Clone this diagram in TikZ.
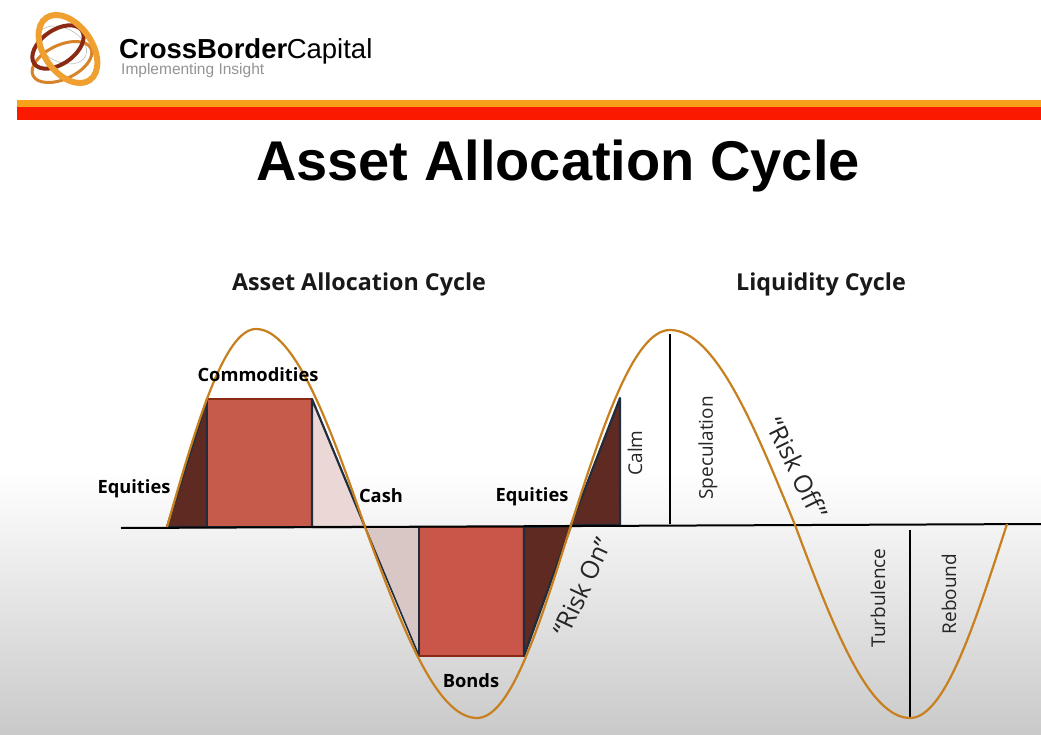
\documentclass[tikz,border=0pt]{standalone}
\usepackage{fontspec}
\setmainfont{Open Sans}
\newfontfamily\headfont{Liberation Sans}
\definecolor{wavec}{HTML}{C8801E}
\definecolor{navyc}{HTML}{1F2D3F}
\definecolor{darkc}{HTML}{5E2A22}
\definecolor{brickc}{HTML}{C65B4C}
\definecolor{palec}{HTML}{EBD8D6}
\definecolor{ringc}{HTML}{F0A030}
\definecolor{ringd}{HTML}{8A2A14}
\definecolor{baro}{HTML}{F9A01B}
\definecolor{barr}{HTML}{FB1A00}
\begin{document}
\begin{tikzpicture}[x=1pt, y=-1pt,
    asset/.style={font=\bfseries\fontsize{18.3}{20}\selectfont, text=black, inner sep=0pt},
    phase/.style={font=\fontsize{19}{22}\selectfont, text=black!85, inner sep=0pt, rotate=90},
    risk/.style={font=\fontsize{25}{29}\selectfont, text=black!85, inner sep=0pt},
    head/.style={font=\bfseries\fontsize{23.3}{27}\selectfont, text=black!90, inner sep=0pt},
    block/.style={draw=navyc, line width=2.2pt, line join=round}]
    \useasboundingbox (0,0) rectangle (1041,735);
    \fill[white] (0,0) rectangle (1041,470);
    \fill[top color=white, bottom color=black!21] (0,470) rectangle (1041,735);
    \draw[black!25, line width=0.6pt, rotate around={-25:(62,45)}] (62,45) ellipse (26 and 17);
    \draw[ringc!75!ringd, line width=3pt, rotate around={25:(62,62)}] (62,62) ellipse (32 and 17);
    \draw[ringd, line width=4pt, rotate around={35:(58,47)}] (58,47) ellipse (29 and 17);
    \draw[ringc, line width=6pt, rotate around={-55:(68,49)}] (68,49) ellipse (38 and 24);
    \node[font=\headfont\fontsize{27.5}{30}\selectfont, anchor=west, inner sep=0pt] (brand) at (119,51) {\textbf{CrossBorder}\hspace{-0.5pt}Capital};
    \node[font=\headfont\fontsize{15.5}{18}\selectfont, text=black!42, anchor=west, inner sep=0pt] (motto) at (121,70) {Implementing Insight};
    \fill[baro] (17,100) rectangle (1041,107);
    \fill[barr] (17,107) rectangle (1041,120);
    \node[font=\headfont\bfseries\fontsize{56}{60}\selectfont, inner sep=0pt] (title) at (558,166) {Asset Allocation Cycle};
    \node[head] (assethead) at (359,284) {Asset Allocation Cycle};
    \node[head] (liquidhead) at (821,284) {Liquidity Cycle};
    \fill[darkc, block] (167,527) -- (207,399) -- (207,527) -- cycle;
    \fill[brickc, block] (207,527) -- (207,399) -- (312,399) -- (312,527) -- cycle;
    \draw[ringd, line width=1.4pt] (207,399) -- (312,399);
    \fill[palec, block] (312,399) -- (312,527) -- (365,527) -- cycle;
    \fill[palec!92!black, block, line width=1.6pt] (365,527) -- (419,527) -- (419,656) -- cycle;
    \fill[brickc!95!red, block, line width=1.6pt] (419,527) -- (524,527) -- (524,656) -- (419,656) -- cycle;
    \draw[ringd, line width=1.4pt] (419,527) -- (524,527) (419,656) -- (524,656);
    \fill[darkc, block] (524,527) -- (571,526) -- (524,656) -- cycle;
    \fill[darkc, block] (571,525) -- (620,525) -- (620,398) -- cycle;
    \draw[black, line width=2pt] (121,528) -- (1041,524);
    \draw[black, line width=2pt] (670,334) -- (670,524);
    \draw[black, line width=2pt] (910,530) -- (910,718);
    \draw[wavec, line width=2.2pt] (167,527)
        .. controls (196,426) and (224,329) .. (256,329)
        .. controls (295,329) and (330,426) .. (365,527)
        .. controls (401,625) and (436,718) .. (477,718)
        .. controls (511,718) and (540,624) .. (571,525)
        .. controls (603,425) and (634,330) .. (670,330)
        .. controls (715,330) and (754,425) .. (795,525)
        .. controls (832,624) and (868,718) .. (910,718)
        .. controls (945,718) and (975,623) .. (1007,524);
    \node[asset] (commodities) at (258,375) {Commodities};
    \node[asset] (equitiesa) at (134,489) {Equities};
    \node[asset] (cash) at (381,496) {Cash};
    \node[asset] (equitiesb) at (532,497) {Equities};
    \node[asset] (bonds) at (471,681) {Bonds};
    \node[phase] (calm) at (635,453) {Calm};
    \node[phase] (speculation) at (708,448) {Speculation};
    \node[phase] (turbulence) at (878,598) {Turbulence};
    \node[phase] (rebound) at (949,594) {Rebound};
    \node[risk, rotate=65] (riskon) at (582,587) {“Risk On”};
    \node[risk, rotate=-64] (riskoff) at (797,468) {“Risk Off”};
\end{tikzpicture}
\end{document}
